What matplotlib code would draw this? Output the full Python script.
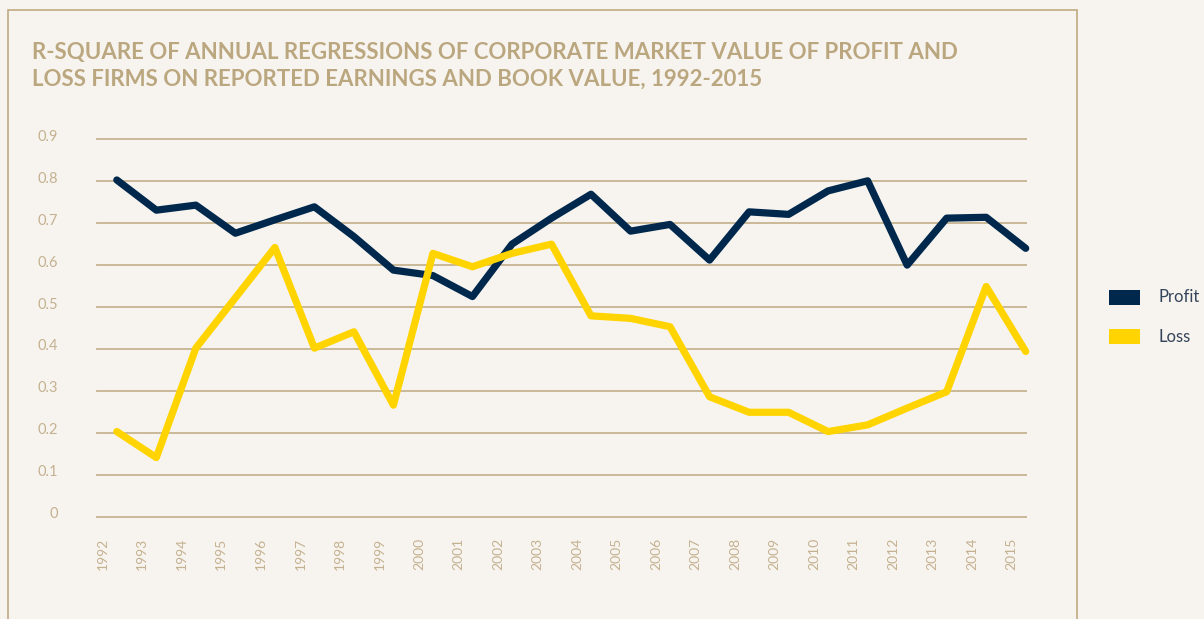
import matplotlib
matplotlib.use("Agg")
import matplotlib.pyplot as plt
import matplotlib.transforms as mtransforms
from matplotlib.patches import Rectangle

years = list(range(1992, 2016))
profit = [0.803, 0.731, 0.743, 0.676, 0.708, 0.739, 0.668, 0.588, 0.575, 0.525,
          0.650, 0.712, 0.769, 0.681, 0.697, 0.612, 0.727, 0.721, 0.777, 0.801,
          0.600, 0.712, 0.714, 0.640]
loss = [0.203, 0.141, 0.402, 0.522, 0.642, 0.402, 0.441, 0.266, 0.628, 0.596,
        0.628, 0.650, 0.479, 0.473, 0.453, 0.286, 0.249, 0.249, 0.203, 0.219,
        0.259, 0.298, 0.549, 0.394]
y_ticks = [0, 0.1, 0.2, 0.3, 0.4, 0.5, 0.6, 0.7, 0.8, 0.9]
y_labels = ['0', '0.1', '0.2', '0.3', '0.4', '0.5', '0.6', '0.7', '0.8', '0.9']
title_lines = ['R-SQUARE OF ANNUAL REGRESSIONS OF CORPORATE MARKET VALUE OF PROFIT AND',
               'LOSS FIRMS ON REPORTED EARNINGS AND BOOK VALUE, 1992-2015']
series = [('Profit', profit, '#00284D'), ('Loss', loss, '#FFD400')]

bg = '#F7F4EF'
tan = '#BFAA82'
grid_c = '#C9B998'
tick_c = '#C4B190'

W, H = 1204, 619
fig = plt.figure(figsize=(W / 100, H / 100), dpi=100, facecolor=bg)

# frame around chart
fig.patches.append(Rectangle((7.5 / W, -0.1), (1076.5 - 7.5) / W, 1 - 9.5 / H + 0.1,
                             transform=fig.transFigure, fill=False,
                             edgecolor=tan, linewidth=1.2))

# title
fig.text(32 / W, 1 - 59.3 / H, title_lines[0], fontsize=16, family='Lato',
         weight='bold', color='#BBA77F', va='baseline', ha='left')
fig.text(32 / W, 1 - 86 / H, title_lines[1], fontsize=16, family='Lato',
         weight='bold', color='#BBA77F', va='baseline', ha='left')

x0, x1 = 96.7, 1025.7
yb, yt = 516.7, 139.3
ax = fig.add_axes([x0 / W, 1 - yb / H, (x1 - x0) / W, (yb - yt) / H])
ax.set_facecolor('none')

for name, vals, col in series:
    ax.plot(years, vals, color=col, linewidth=5.2, solid_capstyle='round',
            solid_joinstyle='round', clip_on=False, zorder=3)

# px -> year: data points start 20.3 px right of the grid start, 39.9 px apart
ax.set_xlim(1992 - 20.3 / 39.9, 1992 - 20.3 / 39.9 + (x1 - x0) / 39.9)
ax.set_ylim(0, 0.9)
for v in y_ticks:
    ax.axhline(v, color=grid_c, linewidth=1.4, zorder=1, clip_on=False)

for s in ax.spines.values():
    s.set_visible(False)

ax.set_yticks(y_ticks)
ax.set_yticklabels(y_labels, fontsize=10.5, family='Lato', color=tick_c)
ax.set_xticks(years)
ax.set_xticklabels([str(y) for y in years], rotation=90, va='top', ha='center',
                   fontsize=10, family='Lato', color=tick_c)
ax.tick_params(axis='y', length=0, pad=28)
ax.tick_params(axis='x', length=0, pad=15)

shift_x = mtransforms.ScaledTranslation(-14 / 100, 0, fig.dpi_scale_trans)
for lab in ax.get_xticklabels():
    lab.set_transform(lab.get_transform() + shift_x)
shift_y = mtransforms.ScaledTranslation(0, 4 / 100, fig.dpi_scale_trans)
for lab in ax.get_yticklabels():
    lab.set_transform(lab.get_transform() + shift_y)

# legend
for i, (name, vals, col) in enumerate(series):
    yc = 297.3 + i * 39.5
    fig.patches.append(Rectangle((1109 / W, 1 - (yc + 7.5) / H), 31 / W, 15 / H,
                                 transform=fig.transFigure, facecolor=col,
                                 edgecolor='none'))
    fig.text(1158 / W, 1 - yc / H, name, fontsize=12, family='Lato',
             color='#34445A', va='center', ha='left')

fig.savefig('out.png', dpi=100, facecolor=bg)
